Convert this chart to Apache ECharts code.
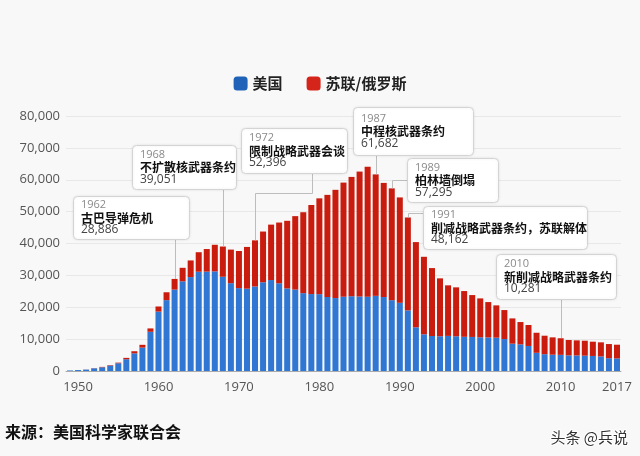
<!DOCTYPE html>
<html><head><meta charset="utf-8">
<script src="https://cdn.jsdelivr.net/npm/echarts@6/dist/echarts.min.js"></script>
<style>html,body{margin:0;padding:0;background:#f8f8f8}#c{width:640px;height:456px}</style>
</head><body><div id="c"></div>
<script>
const years = ['1949','1950','1951','1952','1953','1954','1955','1956','1957','1958','1959',
'1960','1961','1962','1963','1964','1965','1966','1967','1968','1969',
'1970','1971','1972','1973','1974','1975','1976','1977','1978','1979',
'1980','1981','1982','1983','1984','1985','1986','1987','1988','1989',
'1990','1991','1992','1993','1994','1995','1996','1997','1998','1999',
'2000','2001','2002','2003','2004','2005','2006','2007','2008','2009',
'2010','2011','2012','2013','2014','2015','2016','2017'];
const usValues = [170,299,438,841,1169,1703,2422,3692,5543,7345,12298,
18638,22229,25540,28133,29463,31139,31175,31255,29561,27552,
26008,25830,26516,27835,28537,27519,25914,25542,24418,24138,
24104,23208,22886,23305,23459,23368,23317,23575,23205,22217,
21392,19008,13708,11511,10979,10904,11011,10903,10732,10685,
10577,10526,10457,10027,8570,8360,7853,5709,5273,5113,
5066,4897,4881,4804,4717,4571,4018,3950];
const ussrValues = [1,5,25,50,120,150,200,426,660,869,1060,
1605,2471,3346,4238,5221,6129,7089,8339,9490,10538,
11643,13092,14478,15915,17385,19055,21205,23044,25393,27935,
30062,32049,33952,35804,37431,39197,40723,38107,35805,35078,
33060,29154,26734,24320,21310,18160,15860,15340,14350,13135,
12200,11100,10130,9090,7930,7000,6570,6290,5800,5440,
5215,4830,4730,4700,4480,4420,4440,4300];
const seriesNames = ['美国','苏联/俄罗斯'];
const xTickLabels = ['1950','1960','1970','1980','1990','2000','2010','2017'];
const eventYears = ['1962','1968','1972','1987','1989','1991','2010'];
const eventTitles = ['古巴导弹危机','不扩散核武器条约','限制战略武器会谈','中程核武器条约','柏林墙倒塌','削减战略武器条约，苏联解体','新削减战略武器条约'];
const eventValues = ['28,886','39,051','52,396','61,682','57,295','48,162','10,281'];
const sourceText = '来源：美国科学家联合会';
const watermarkText = '头条 @兵说';

// layout of annotation boxes (pixels) and leader routes
const boxLayout = [
  {x:73, y:196, w:116, h:43, route:'down'},
  {x:132, y:145, w:104, h:44, route:'down'},
  {x:241, y:128, w:106, h:45, route:'elbow', ex:312, ey:193},
  {x:353, y:107, w:120, h:48, route:'down'},
  {x:407, y:158, w:91, h:44, route:'left', ly:180},
  {x:423, y:206, w:164, h:43, route:'left', ly:213},
  {x:496, y:254, w:120, h:45, route:'down'}
];

const blue = '#2f77d3', red = '#c91b0e';
const chart = echarts.init(document.getElementById('c'), null, {renderer:'canvas'});
const FONT = '"Noto Sans CJK SC", "Open Sans", sans-serif';
const option = {
  animation: false,
  backgroundColor: '#f8f8f8',
  textStyle: {fontFamily: FONT},
  legend: {
    top: 71, left: 'center', itemWidth: 14, itemHeight: 14, itemGap: 24, icon: 'roundRect',
    textStyle: {fontSize: 15, fontWeight: 'bold', color: '#222', fontFamily: FONT},
    data: [
      {name: seriesNames[0], itemStyle: {color: '#1f62b8'}},
      {name: seriesNames[1], itemStyle: {color: '#d5241a'}}
    ]
  },
  grid: {left: 66, right: 19, top: 116, bottom: 85},
  xAxis: {
    type: 'category', data: years,
    axisLine: {lineStyle: {color: '#aaa'}},
    axisTick: {alignWithLabel: true, length: 5, lineStyle: {color: '#999'},
      interval: (i, v) => xTickLabels.includes(v)},
    axisLabel: {interval: (i, v) => xTickLabels.includes(v), color: '#555', fontSize: 13,
      fontFamily: '"Open Sans", sans-serif', margin: 10}
  },
  yAxis: {
    type: 'value', min: 0, max: 80000, interval: 10000,
    axisLine: {show: false}, axisTick: {show: false},
    splitLine: {lineStyle: {color: '#e8e8e8'}},
    axisLabel: {color: '#555', fontSize: 13, fontFamily: '"Open Sans", sans-serif', margin: 6,
      formatter: v => v.toLocaleString('en-US')}
  },
  series: [
    {name: seriesNames[0], type: 'bar', stack: 't', data: usValues, barWidth: 6,
      itemStyle: {color: blue}},
    {name: seriesNames[1], type: 'bar', stack: 't', data: ussrValues, barWidth: 6,
      itemStyle: {color: red, borderColor: 'rgba(255,235,235,0.7)', borderWidth: 0}}
  ]
};
chart.setOption(option);

const g = [];
eventYears.forEach((yr, k) => {
  const idx = years.indexOf(yr);
  const total = usValues[idx] + ussrValues[idx];
  const p = chart.convertToPixel({gridIndex: 0}, [yr, total]);
  const bx = Math.round(p[0]) + 0.5, by = p[1];
  const b = boxLayout[k];
  let pts;
  if (b.route === 'down') pts = [[bx, b.y + b.h], [bx, by]];
  else if (b.route === 'elbow') pts = [[b.ex + 0.5, b.y + b.h], [b.ex + 0.5, b.ey + 0.5], [bx, b.ey + 0.5], [bx, by]];
  else pts = [[b.x, b.ly + 0.5], [bx, b.ly + 0.5], [bx, by]];
  g.push({type: 'polyline', z: 10, shape: {points: pts}, style: {stroke: '#bdbdbd', lineWidth: 1, fill: null}});
  g.push({type: 'rect', z: 20, shape: {x: b.x + 0.5, y: b.y + 0.5, width: b.w, height: b.h, r: 4},
    style: {fill: '#fff', stroke: '#d4d4d4', lineWidth: 1, shadowBlur: 3, shadowColor: 'rgba(0,0,0,0.08)'}});
  const tx = b.x + 8;
  const top = b.y + (b.h - 43) / 2;
  g.push({type: 'text', z: 21, x: tx, y: top + 9, style: {text: yr, fill: '#8a8a8a', fontSize: 11,
    fontFamily: '"Open Sans", sans-serif', verticalAlign: 'middle'}});
  g.push({type: 'text', z: 21, x: tx, y: top + 22, style: {text: eventTitles[k], fill: '#111', fontSize: 12,
    fontWeight: 'bold', fontFamily: FONT, verticalAlign: 'middle'}});
  g.push({type: 'text', z: 21, x: tx, y: top + 34, style: {text: eventValues[k], fill: '#444', fontSize: 12,
    fontFamily: '"Open Sans", sans-serif', verticalAlign: 'middle'}});
});
g.push({type: 'text', z: 30, x: 5, y: 432, style: {text: sourceText, fill: '#111', fontSize: 16,
  fontWeight: 'bold', fontFamily: FONT, verticalAlign: 'middle'}});
g.push({type: 'text', z: 30, x: 628, y: 437, style: {text: watermarkText, fill: '#333', fontSize: 15,
  fontFamily: FONT, align: 'right', verticalAlign: 'middle', stroke: '#fff', lineWidth: 2}});
chart.setOption({graphic: {elements: g}});
</script></body></html>
